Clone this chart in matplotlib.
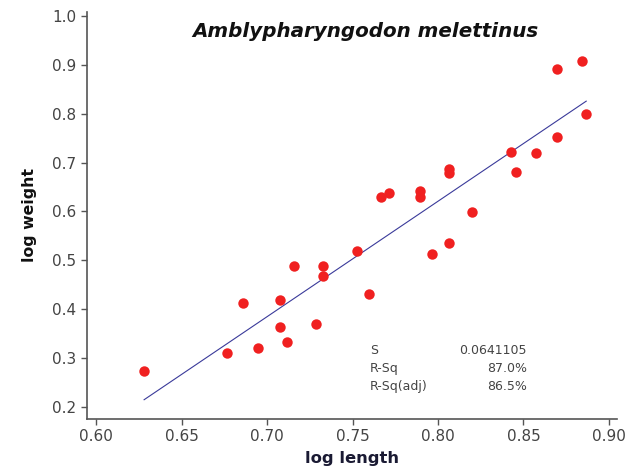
import matplotlib
matplotlib.use("Agg")
import matplotlib.pyplot as plt
import numpy as np

# log length / log weight
log_length = [
    0.6281, 0.6764, 0.6861, 0.6946, 0.7076, 0.7076, 0.7119, 0.7158,
    0.7285, 0.7326, 0.7326, 0.7525, 0.7598, 0.7667, 0.7715, 0.7895,
    0.7895, 0.7963, 0.8066, 0.8066, 0.8066, 0.8196, 0.8427, 0.8456,
    0.8573, 0.8694, 0.8694, 0.8844, 0.8867,
]
log_weight = [
    0.274, 0.310, 0.413, 0.321, 0.419, 0.363, 0.332, 0.488,
    0.369, 0.488, 0.468, 0.519, 0.432, 0.630, 0.638, 0.642,
    0.629, 0.513, 0.535, 0.686, 0.679, 0.599, 0.721, 0.680,
    0.719, 0.891, 0.752, 0.908, 0.799,
]

stat_names = ['S', 'R-Sq', 'R-Sq(adj)']
stat_values = ['0.0641105', '87.0%', '86.5%']

x_ticks = [0.60, 0.65, 0.70, 0.75, 0.80, 0.85, 0.90]
y_ticks = [0.2, 0.3, 0.4, 0.5, 0.6, 0.7, 0.8, 0.9, 1.0]

fig = plt.figure(figsize=(6.41, 4.70), dpi=100)
ax = fig.add_axes([87/641, 51/470, 530/641, 407/470])

x = np.array(log_length)
y = np.array(log_weight)
b, a = np.polyfit(x, y, 1)
xs = np.array([x.min(), x.max()])
ax.plot(xs, a + b * xs, color='#3a3a9a', lw=0.8, zorder=2)
ax.plot(x, y, 'o', color='#f02020', ms=7.5, mec='none', zorder=3)

ax.set_xlim(0.5947, 0.9047)
ax.set_ylim(0.1755, 1.008)
ax.set_xticks(x_ticks)
ax.set_xticklabels(['%.2f' % t for t in x_ticks])
ax.set_yticks(y_ticks)
ax.set_yticklabels(['%.1f' % t for t in y_ticks])

for s in ['top', 'right']:
    ax.spines[s].set_visible(False)
for s in ['left', 'bottom']:
    ax.spines[s].set_color('#555555')
    ax.spines[s].set_linewidth(1.2)
ax.tick_params(colors='#555555', labelcolor='#444444', labelsize=11, length=4, width=1)

ax.set_xlabel('log length', fontsize=11.8, fontweight='bold', color='#1a1a33', labelpad=5)
ax.set_ylabel('log weight', fontsize=11.3, fontweight='bold', color='#111111', labelpad=11)

ax.text(0.5255, 0.951, 'Amblypharyngodon melettinus', transform=ax.transAxes,
        ha='center', va='center', fontsize=14.3, fontweight='bold', style='italic', color='#111111')

for i in range(len(stat_names)):
    yy = 0.168 - i * 0.0445
    ax.text(0.534, yy, stat_names[i], transform=ax.transAxes, ha='left', va='center',
            fontsize=9, color='#444444')
    ax.text(0.830, yy, stat_values[i], transform=ax.transAxes, ha='right', va='center',
            fontsize=9, color='#444444')

fig.savefig('out.png', dpi=100)
